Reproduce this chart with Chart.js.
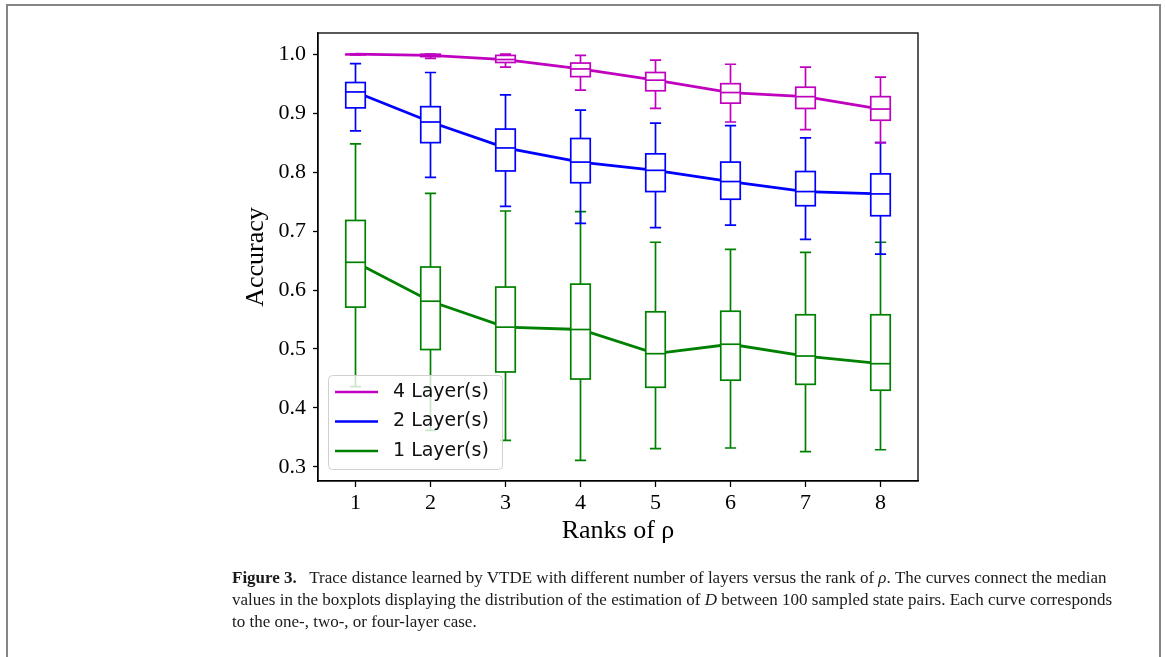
<!DOCTYPE html>
<html>
<head>
<meta charset="utf-8">
<script src="https://cdn.jsdelivr.net/npm/chart.js@4.4.0/dist/chart.umd.min.js"></script>
<style>
  html, body { margin: 0; padding: 0; background: #fff; }
  #wrap { position: relative; width: 1165px; height: 657px; overflow: hidden; }
  #frame { position: absolute; left: 6px; top: 4px; width: 1155px; height: 700px;
           border: 2px solid #858585; box-sizing: border-box; }
  #chartBox { position: absolute; left: 0; top: 0; width: 1165px; height: 657px; }
  #caption { position: absolute; left: 232px; top: 567px; font-family: "Liberation Serif", serif;
             font-size: 17px; line-height: 22px; color: #1a1a1a; white-space: nowrap; }
</style>
</head>
<body>
<div id="wrap">
  <div id="frame"></div>
  <div id="chartBox"><canvas id="c"></canvas></div>
  <div id="caption">
    <b>Figure 3.</b>&nbsp;&nbsp; Trace distance learned by VTDE with different number of layers versus the rank of <i>ρ</i>. The curves connect the median<br>
    values in the boxplots displaying the distribution of the estimation of <i>D</i> between 100 sampled state pairs. Each curve corresponds<br>
    to the one-, two-, or four-layer case.
  </div>
</div>
<script>
/* Ranks on the x axis and the tick marks of both axes. */
const ranks = [1, 2, 3, 4, 5, 6, 7, 8];
const yTicks = [0.3, 0.4, 0.5, 0.6, 0.7, 0.8, 0.9, 1.0];

/* 4 layers: whisker low, Q1, median, Q3, whisker high. */
const l4Low  = [0.999, 0.993, 0.978, 0.939, 0.908, 0.885, 0.872, 0.850];
const l4Q1   = [0.999, 0.996, 0.986, 0.962, 0.938, 0.917, 0.908, 0.888];
const l4Med  = [1.000, 0.998, 0.991, 0.975, 0.956, 0.935, 0.928, 0.907];
const l4Q3   = [1.000, 1.000, 0.998, 0.985, 0.969, 0.950, 0.944, 0.928];
const l4High = [1.000, 1.000, 1.000, 0.998, 0.990, 0.983, 0.978, 0.961];

/* 2 layers */
const l2Low  = [0.870, 0.791, 0.742, 0.713, 0.706, 0.710, 0.686, 0.661];
const l2Q1   = [0.909, 0.850, 0.802, 0.782, 0.767, 0.754, 0.743, 0.726];
const l2Med  = [0.936, 0.885, 0.841, 0.817, 0.803, 0.784, 0.767, 0.763];
const l2Q3   = [0.952, 0.911, 0.873, 0.857, 0.831, 0.817, 0.801, 0.797];
const l2High = [0.984, 0.969, 0.931, 0.905, 0.883, 0.879, 0.858, 0.850];

/* 1 layer */
const l1Low  = [0.436, 0.362, 0.345, 0.311, 0.331, 0.332, 0.326, 0.329];
const l1Q1   = [0.571, 0.499, 0.461, 0.449, 0.435, 0.447, 0.440, 0.430];
const l1Med  = [0.647, 0.581, 0.537, 0.533, 0.492, 0.508, 0.488, 0.475];
const l1Q3   = [0.718, 0.639, 0.605, 0.610, 0.563, 0.564, 0.558, 0.558];
const l1High = [0.848, 0.764, 0.734, 0.733, 0.681, 0.669, 0.664, 0.681];

const series = [
  { label: '4 Layer(s)', color: '#bf00bf', low: l4Low, q1: l4Q1, med: l4Med, q3: l4Q3, high: l4High },
  { label: '2 Layer(s)', color: '#0000ff', low: l2Low, q1: l2Q1, med: l2Med, q3: l2Q3, high: l2High },
  { label: '1 Layer(s)', color: '#008000', low: l1Low, q1: l1Q1, med: l1Med, q3: l1Q3, high: l1High },
];

const BOX_W = 0.26;  // in x units
const CAP_W = 0.15;

/* Boxes, whiskers and caps drawn over the median curves. */
const boxPlugin = {
  id: 'boxes',
  afterDatasetsDraw(chart) {
    const { ctx, scales: { x, y } } = chart;
    ctx.save();
    ctx.lineWidth = 1.7;
    series.slice().reverse().forEach((s) => {
      ctx.strokeStyle = s.color;
      ranks.forEach((r, i) => {
        const cx = x.getPixelForValue(r);
        const hb = (x.getPixelForValue(r + BOX_W / 2) - x.getPixelForValue(r - BOX_W / 2)) / 2;
        const hc = (x.getPixelForValue(r + CAP_W / 2) - x.getPixelForValue(r - CAP_W / 2)) / 2;
        const yl = y.getPixelForValue(s.low[i]);
        const y1 = y.getPixelForValue(s.q1[i]);
        const ym = y.getPixelForValue(s.med[i]);
        const y3 = y.getPixelForValue(s.q3[i]);
        const yh = y.getPixelForValue(s.high[i]);
        ctx.beginPath();
        ctx.moveTo(cx, y1); ctx.lineTo(cx, yl);
        ctx.moveTo(cx - hc, yl); ctx.lineTo(cx + hc, yl);
        ctx.moveTo(cx, y3); ctx.lineTo(cx, yh);
        ctx.moveTo(cx - hc, yh); ctx.lineTo(cx + hc, yh);
        ctx.stroke();
        ctx.fillStyle = '#fff';
        ctx.fillRect(cx - hb, y3, hb * 2, y1 - y3);
        ctx.strokeRect(cx - hb, y3, hb * 2, y1 - y3);
        ctx.beginPath();
        ctx.moveTo(cx - hb, ym); ctx.lineTo(cx + hb, ym);
        ctx.stroke();
      });
    });
    ctx.restore();
  },
  afterDraw(chart) {
    const { ctx, chartArea: a } = chart;
    ctx.save();
    // plot frame
    ctx.strokeStyle = '#000';
    ctx.lineWidth = 1.3;
    ctx.strokeRect(a.left, a.top, a.right - a.left, a.bottom - a.top);
    // legend, lower left inside the axes
    const lx = a.left + 10, ly = a.bottom - 106, lw = 174, lh = 94;
    ctx.beginPath();
    ctx.roundRect(lx + 0.5, ly + 0.5, lw, lh, 4);
    ctx.fillStyle = 'rgba(255,255,255,0.8)';
    ctx.fill();
    ctx.strokeStyle = '#d0d0d0';
    ctx.lineWidth = 1;
    ctx.stroke();
    ctx.font = '19px "DejaVu Sans"';
    ctx.textBaseline = 'middle';
    series.forEach((s, i) => {
      const yy = ly + 17 + i * 29.5;
      ctx.strokeStyle = s.color;
      ctx.lineWidth = 2.7;
      ctx.beginPath();
      ctx.moveTo(lx + 7, yy); ctx.lineTo(lx + 50, yy);
      ctx.stroke();
      ctx.fillStyle = '#111';
      ctx.fillText(s.label, lx + 65, yy);
    });
    ctx.restore();
  },
};

const serif = { family: '"Liberation Serif", serif' };

new Chart(document.getElementById('c'), {
  type: 'line',
  data: {
    datasets: series.map((s) => ({
      label: s.label,
      data: ranks.map((r, i) => ({ x: r, y: s.med[i] })),
      borderColor: s.color,
      borderWidth: 2.8,
      pointRadius: 0,
      tension: 0,
    })),
  },
  options: {
    responsive: true,
    maintainAspectRatio: false,
    animation: false,
    layout: { padding: { left: 0, top: 33, right: 247, bottom: 96 } },
    plugins: { legend: { display: false }, tooltip: { enabled: false } },
    scales: {
      x: {
        type: 'linear', min: 0.5, max: 8.5,
        afterFit: (s) => { s.height = 80; },
        afterBuildTicks: (s) => { s.ticks = ranks.map((v) => ({ value: v })); },
        ticks: { color: '#000', padding: 3, font: { ...serif, size: 22 }, callback: (v) => String(v) },
        grid: { drawOnChartArea: false, tickLength: 6, tickColor: '#000', tickWidth: 1.3 },
        border: { color: '#000', width: 1.3 },
        title: { display: true, text: 'Ranks of ρ', color: '#000', font: { ...serif, size: 26 }, padding: { top: 0, bottom: 14 } },
      },
      y: {
        type: 'linear', min: 0.276, max: 1.036,
        afterFit: (s) => { s.width = 318; },
        afterBuildTicks: (s) => { s.ticks = yTicks.map((v) => ({ value: v })); },
        ticks: { color: '#000', padding: 7, font: { ...serif, size: 22 }, callback: (v) => v.toFixed(1) },
        grid: { drawOnChartArea: false, tickLength: 5, tickColor: '#000', tickWidth: 1.3 },
        border: { color: '#000', width: 1.3 },
        title: { display: true, text: 'Accuracy', color: '#000', font: { ...serif, size: 26 }, padding: { top: 241, bottom: 0 } },
      },
    },
  },
  plugins: [boxPlugin],
});
</script>
</body>
</html>
